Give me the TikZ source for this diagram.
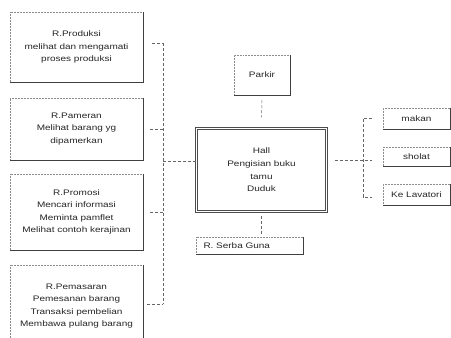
\documentclass[tikz,border=0pt]{standalone}
\usepackage{fontspec}
\setmainfont{Liberation Sans}[FakeStretch=1.25]
\begin{document}
\begin{tikzpicture}[x=1pt,y=-1pt,
  box/.style={draw=black!45, densely dotted, line width=0.5pt, align=center, inner sep=1pt,
    font=\fontsize{8}{12.6}\selectfont, text=black!85},
  conn/.style={draw=black!60, densely dashed, line width=0.5pt},
  shade/.style={draw=black!75, line width=0.7pt}]
\useasboundingbox (0,0) rectangle (451,338);
\fill[white] (0,0) rectangle (451,338);
% left boxes
\node[box, minimum width=133pt, minimum height=70pt] (b1) at (76.5,47)
  {R.Produksi\\melihat dan mengamati\\proses produksi};
\node[box, minimum width=133pt, minimum height=62pt] (b2) at (76.5,129)
  {R.Pameran\\Melihat barang yg\\dipamerkan};
\node[box, minimum width=133pt, minimum height=76pt] (b3) at (76.5,212)
  {R.Promosi\\Mencari informasi\\Meminta pamflet\\Melihat contoh kerajinan};
\node[box, minimum width=133pt, minimum height=82pt] (b4) at (76.5,306)
  {R.Pemasaran\\Pemesanan barang\\Transaksi pembelian\\Membawa pulang barang};
% center boxes
\node[box, minimum width=56pt, minimum height=40pt] (parkir) at (262,75) {Parkir};
\node[box, solid, draw=black!70, double=white, double distance=1.2pt, minimum width=130pt, minimum height=83pt] (hall) at (261.5,170)
  {Hall\\Pengisian buku\\tamu\\Duduk};
\node[box, minimum width=107pt, minimum height=17pt, text width=100pt, align=left] (serba) at (249.5,245.5) {\hspace*{4pt}R. Serba Guna};
% right boxes
\node[box, minimum width=67pt, minimum height=21pt] (makan) at (416.5,118.5) {makan};
\node[box, minimum width=67pt, minimum height=19pt] (sholat) at (416.5,156.5) {sholat};
\node[box, minimum width=67pt, minimum height=21pt] (lav) at (416.5,194.5) {Ke Lavatori};
% darker right/bottom edges
\foreach \n in {b1,b2,b3,parkir,serba,makan,sholat,lav}
  \draw[shade] (\n.north east) -- (\n.south east) -- (\n.south west);
\draw[shade] (b4.north east) -- (b4.south east);
% left bracket
\coordinate (L1) at (163,43);
\coordinate (L4) at (163,304);
\draw[conn] (L1) -- (L4);
\draw[conn] ([xshift=9pt]b1.east |- L1) -- (L1);
\draw[conn] ([xshift=7pt]b2.east) -- (b2.east -| L1);
\draw[conn] ([xshift=7pt]b3.east) -- (b3.east -| L1);
\draw[conn] ([xshift=4pt]b4.east |- L4) -- (L4);
\draw[conn] ([yshift=9pt]hall.west) -- ([yshift=9pt]hall.west -| L1);
% vertical links
\draw[conn] ([yshift=-5pt]parkir.south) -- ([yshift=11pt]hall.north);
\draw[conn] ([yshift=-4pt]hall.south) -- ([yshift=3pt]serba.north -| hall.south);
% right bracket
\coordinate (R1) at (363,118);
\coordinate (R3) at (363,197);
\draw[conn] ([xshift=8pt,yshift=10pt]hall.east) -- ([xshift=-11pt,yshift=10pt]hall.east -| makan.west);
\draw[conn] ([xshift=-11pt]makan.west |- R1) -- (R1) -- (R3) -- ([xshift=-11pt]lav.west |- R3);
\end{tikzpicture}
\end{document}
